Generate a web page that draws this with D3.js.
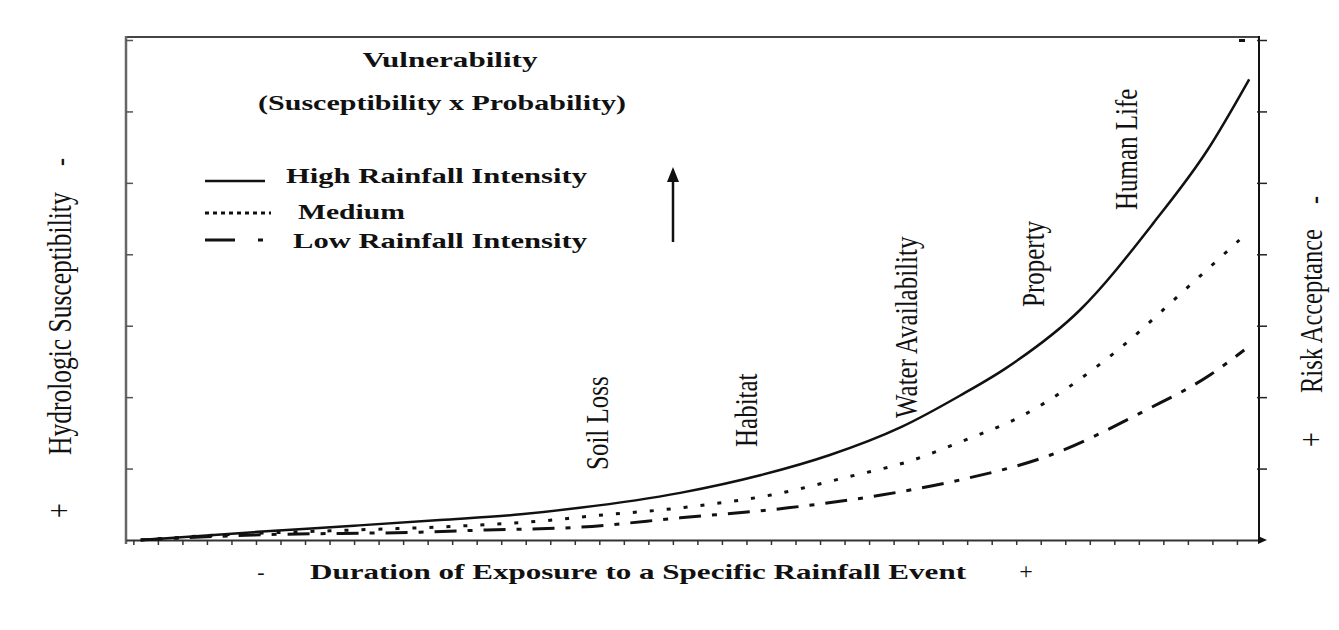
<!DOCTYPE html>
<html>
<head>
<meta charset="utf-8">
<script src="https://cdn.jsdelivr.net/npm/d3@7"></script>
<style>
  body { margin: 0; background: #fff; }
  text { font-family: "Liberation Serif", "DejaVu Serif", serif; fill: #111; }
</style>
</head>
<body>
<div id="vis"></div>
<script>
// curves: [duration tick, susceptibility tick]
var highRain = [[0.3,0],[4.9,0.11],[9.0,0.2],[12.5,0.28],[15.8,0.36],[18.2,0.45],[22.3,0.66],[25.6,0.91],[28.4,1.19],[31.3,1.58],[33.7,2.02],[35.6,2.41],[38.6,3.22],[41.6,4.44],[43.8,5.46],[45.5,6.45]];
var mediumRain = [[0.3,0],[3.5,0.07],[9.0,0.14],[13.0,0.19],[17.1,0.28],[18.2,0.32],[22.3,0.45],[26.0,0.63],[29.1,0.88],[31.8,1.12],[33.7,1.37],[36.3,1.75],[40.0,2.62],[43.0,3.54],[45.1,4.2]];
var lowRain = [[0.3,0],[4.9,0.07],[11.7,0.11],[14.4,0.14],[18.2,0.18],[22.3,0.31],[26.7,0.45],[30.5,0.63],[33.7,0.84],[37.4,1.19],[41.3,1.82],[43.9,2.31],[45.3,2.66]];

var legendLabels = ['High Rainfall Intensity', 'Medium', 'Low Rainfall Intensity'];
var impactLabels = ['Soil Loss', 'Habitat', 'Water Availability', 'Property', 'Human Life'];
var xTicks = d3.range(0, 46);
var yTicks = d3.range(1, 8);

var width = 1339, height = 630;
var sx = 1.3;   // the scan is stretched sideways

var svg = d3.select('#vis')
    .append('svg')
        .attr('width', width)
        .attr('height', height);

var x = d3.scaleLinear().domain([-0.3, 45.9]).range([126, 1259]);
var y = d3.scaleLinear().domain([0, 7]).range([540, 40]);

// frame
svg.append('line')
    .attr('x1', 126).attr('x2', 1260).attr('y1', 37).attr('y2', 37)
    .attr('stroke', '#444').attr('stroke-width', 2);
svg.append('line')
    .attr('x1', 126).attr('x2', 126).attr('y1', 36).attr('y2', 544)
    .attr('stroke', '#666').attr('stroke-width', 2.5);
svg.append('line')
    .attr('x1', 1259).attr('x2', 1259).attr('y1', 36).attr('y2', 541)
    .attr('stroke', '#111').attr('stroke-width', 2);
svg.append('rect')
    .attr('x', 1239).attr('y', 39).attr('width', 6).attr('height', 3).attr('fill', '#111');

var xAxis = svg.append('g')
    .attr('transform', 'translate(0,540)')
    .call(d3.axisBottom(x).tickValues(xTicks).tickSize(5).tickSizeOuter(0).tickFormat(''));
xAxis.select('.domain').attr('stroke', '#333').attr('stroke-width', 2);
xAxis.selectAll('.tick line').attr('stroke', '#333').attr('stroke-width', 1.5);

svg.append('path')
    .attr('d', 'M1258,536 L1267,540 L1258,544 Z')
    .attr('fill', '#111');

var leftAxis = svg.append('g')
    .attr('transform', 'translate(126,0)')
    .call(d3.axisRight(y).tickValues(yTicks).tickSize(7).tickSizeOuter(0).tickFormat(''));
leftAxis.select('.domain').remove();
leftAxis.selectAll('.tick line').attr('stroke', '#555').attr('stroke-width', 1.5);

var rightAxis = svg.append('g')
    .attr('transform', 'translate(1259,0)')
    .call(d3.axisRight(y).tickValues(yTicks).tickSize(8).tickSizeOuter(0).tickFormat(''));
rightAxis.select('.domain').remove();
rightAxis.selectAll('.tick line').attr('x1', -2).attr('stroke', '#222').attr('stroke-width', 1.5);

// curves
var line = d3.line()
    .x(function(d){ return x(d[0]); })
    .y(function(d){ return y(d[1]); })
    .curve(d3.curveMonotoneX);

var styles = [
    {data: highRain, dash: null, w: 2.5},
    {data: mediumRain, dash: '4,13', w: 3},
    {data: lowRain, dash: '22,11,5,11', w: 3}
];

svg.selectAll('.curve')
    .data(styles)
    .enter()
    .append('path')
        .attr('class', 'curve')
        .attr('d', function(d){ return line(d.data); })
        .attr('fill', 'none')
        .attr('stroke', '#111')
        .attr('stroke-width', function(d){ return d.w; })
        .attr('stroke-dasharray', function(d){ return d.dash; });

// titles
function hText(str, xx, yy, size, bold, len, anchor)
{
    return svg.append('text')
        .attr('x', xx).attr('y', yy)
        .attr('font-size', size)
        .attr('font-weight', bold ? 'bold' : 'normal')
        .attr('text-anchor', anchor || 'start')
        .attr('textLength', len)
        .attr('lengthAdjust', 'spacingAndGlyphs')
        .text(str);
}

hText('Vulnerability', 450, 67, 22, true, 175, 'middle');
hText('(Susceptibility x Probability)', 442, 110, 22, true, 368, 'middle');
hText('Duration of Exposure to a Specific Rainfall Event', 310, 579, 22, true, 656);
svg.append('text').attr('x', 261).attr('y', 579).attr('font-size', 22).attr('text-anchor', 'middle').text('-');
svg.append('text').attr('x', 1026).attr('y', 579).attr('font-size', 24).attr('text-anchor', 'middle').text('+');

// legend
var legendX = [286, 298, 293];
var legendY = [183, 219, 248];
var legendW = [301, 107, 294];
legendLabels.forEach(function(lab, i){
    hText(lab, legendX[i], legendY[i], 22, true, legendW[i]);
});
svg.append('line').attr('x1', 205).attr('x2', 265).attr('y1', 181).attr('y2', 181)
    .attr('stroke', '#111').attr('stroke-width', 2.5);
svg.append('line').attr('x1', 205).attr('x2', 271).attr('y1', 213).attr('y2', 213)
    .attr('stroke', '#111').attr('stroke-width', 3).attr('stroke-dasharray', '4,4');
svg.append('line').attr('x1', 205).attr('x2', 263).attr('y1', 240).attr('y2', 240)
    .attr('stroke', '#111').attr('stroke-width', 3).attr('stroke-dasharray', '30,23,5,100');

// up arrow
svg.append('line').attr('x1', 673).attr('x2', 673).attr('y1', 242).attr('y2', 178)
    .attr('stroke', '#111').attr('stroke-width', 2.5);
svg.append('path').attr('d', 'M667,182 L673,167 L679,182 Z').attr('fill', '#111');

// rotated labels
function vText(str, bx, by, size)
{
    return svg.append('text')
        .attr('transform', 'translate(' + bx + ',' + by + ') scale(' + sx + ',1) rotate(-90)')
        .attr('font-size', size)
        .text(str);
}

var impactX = [608, 757, 917, 1044, 1137];
var impactY = [470, 447, 418, 307, 210];
impactLabels.forEach(function(lab, i){
    vText(lab, impactX[i], impactY[i], 25);
});

vText('Hydrologic Susceptibility', 71, 455, 25.5);
vText('-', 70, 166, 24);
vText('+', 70, 518, 26);
vText('Risk Acceptance', 1322, 393, 24.5);
vText('+', 1322, 447, 26);
vText('-', 1324, 204, 24);
</script>
</body>
</html>
